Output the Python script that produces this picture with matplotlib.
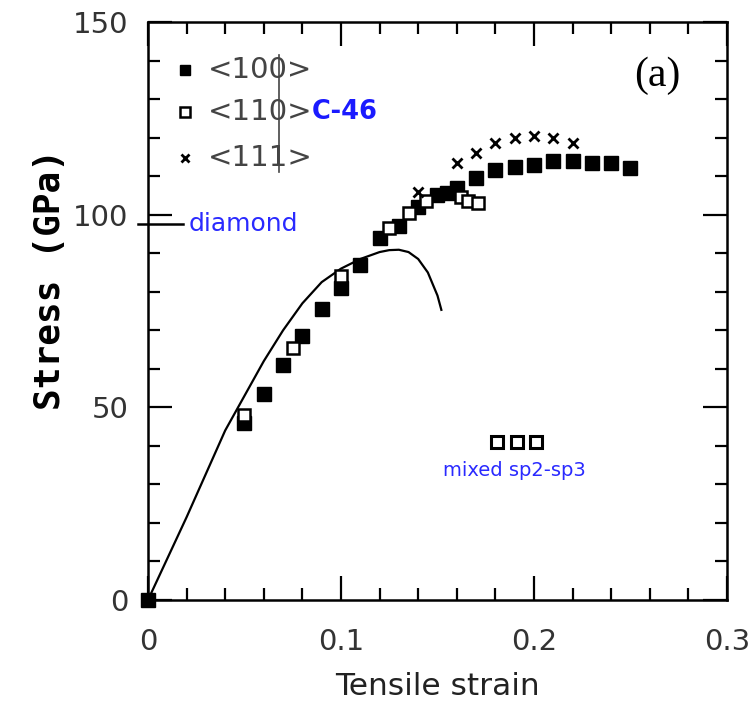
import numpy as np
import matplotlib
matplotlib.use('Agg')
import matplotlib.pyplot as plt
from matplotlib.ticker import MultipleLocator

# <100> direction (filled squares)
strain_100 = [0.0, 0.05, 0.06, 0.07, 0.08, 0.09, 0.10, 0.11, 0.12, 0.13, 0.14,
              0.15, 0.155, 0.16, 0.17, 0.18, 0.19, 0.20, 0.21, 0.22, 0.23, 0.24, 0.25]
stress_100 = [0.0, 46.0, 53.5, 61.0, 68.5, 75.5, 81.0, 87.0, 94.0, 97.0, 102.0,
              105.0, 105.5, 107.0, 109.5, 111.5, 112.5, 113.0, 114.0, 114.0, 113.5, 113.5, 112.0]

# <110> direction (open squares)
strain_110 = [0.05, 0.075, 0.10, 0.125, 0.135, 0.144, 0.162, 0.166, 0.171]
stress_110 = [48.0, 65.5, 84.0, 96.5, 100.5, 103.5, 104.5, 103.5, 103.0]

# <110> after fracture into mixed sp2-sp3
strain_mixed = [0.181, 0.191, 0.201]
stress_mixed = [41.0, 41.0, 41.0]

# <111> direction (crosses)
strain_111 = [0.14, 0.16, 0.17, 0.18, 0.19, 0.20, 0.21, 0.22]
stress_111 = [106.0, 113.5, 116.0, 118.5, 120.0, 120.5, 120.0, 118.5]

# bulk diamond curve
curve_strain = [0.0, 0.02, 0.04, 0.05, 0.06, 0.07, 0.08, 0.09, 0.10, 0.11,
                0.12, 0.125, 0.13, 0.135, 0.14, 0.145, 0.15, 0.152]
curve_stress = [0.0, 21.5, 44.0, 53.0, 62.0, 70.0, 77.0, 82.5, 86.0, 88.5,
                90.3, 90.8, 90.9, 90.3, 88.5, 85.0, 79.0, 75.3]

diamond_stress = 97.6

legend_labels = ['<100>', '<110>', '<111>']

fig = plt.figure(figsize=(7.49, 7.13), dpi=100)
ax = fig.add_axes([0.1976, 0.1585, 0.773, 0.8106])

ax.plot(curve_strain, curve_stress, color='black', lw=1.6)

ax.plot(strain_100, stress_100, 's', color='black', ms=9.5, clip_on=False)
ax.plot(strain_110, stress_110, 's', mfc='white', mec='black', mew=1.8, ms=8.5)
ax.plot(strain_mixed, stress_mixed, 's', mfc='white', mec='black', mew=2.2, ms=9)
ax.plot(strain_111, stress_111, 'x', color='black', mew=2.0, ms=7)

# diamond reference mark across the left spine
ax.plot([-0.005, 0.018], [diamond_stress, diamond_stress], color='black', lw=1.8,
        clip_on=False)
ax.text(0.021, diamond_stress, 'diamond', color='#2a2aff', fontsize=18,
        va='center', ha='left')

# legend drawn by hand
leg_y = [137.6, 126.7, 114.7]
ax.plot(0.019, leg_y[0], 's', color='black', ms=7)
ax.plot(0.019, leg_y[1], 's', mfc='white', mec='black', mew=1.8, ms=6.5)
ax.plot(0.019, leg_y[2], 'x', color='black', mew=2.0, ms=5.5)
for y, lab in zip(leg_y, legend_labels):
    ax.text(0.031, y, lab, fontsize=21, color='#444444', va='center', ha='left')
ax.plot([0.068, 0.068], [111.0, 141.5], color='#444444', lw=1.2)
ax.text(0.085, leg_y[1], 'C-46', color='#1a1aff', fontsize=18.5, va='center',
        ha='left', fontweight='bold')

ax.text(0.19, 33.5, 'mixed sp2-sp3', color='#2a2aff', fontsize=14,
        va='center', ha='center')

ax.text(0.264, 136.0, '(a)', fontsize=30, family='Liberation Serif',
        va='center', ha='center')

ax.set_xlim(0, 0.3)
ax.set_ylim(0, 150)
ax.xaxis.set_major_locator(MultipleLocator(0.1))
ax.xaxis.set_minor_locator(MultipleLocator(0.02))
ax.yaxis.set_major_locator(MultipleLocator(50))
ax.yaxis.set_minor_locator(MultipleLocator(10))
ax.set_xticks([0, 0.1, 0.2, 0.3])
ax.set_xticklabels(['0', '0.1', '0.2', '0.3'])
ax.set_yticks([0, 50, 100, 150])
ax.set_yticklabels(['0', '50', '100', '150'])

ax.tick_params(which='both', direction='in', top=True, right=True, width=1.6)
ax.tick_params(which='major', length=17)
ax.tick_params(which='minor', length=8.5)
ax.tick_params(axis='x', which='major', pad=20, labelsize=21, labelcolor='#333333')
ax.tick_params(axis='y', which='major', pad=14, labelsize=21, labelcolor='#333333')
for sp in ax.spines.values():
    sp.set_linewidth(1.8)

ax.set_xlabel('Tensile strain', fontsize=22.5, color='#222222', labelpad=12)
ax.set_ylabel('Stress (GPa)', fontsize=26, family='DejaVu Sans Mono',
              fontweight='bold')
ax.yaxis.set_label_coords(-0.14, 0.555)

fig.savefig('out.png', dpi=100)
